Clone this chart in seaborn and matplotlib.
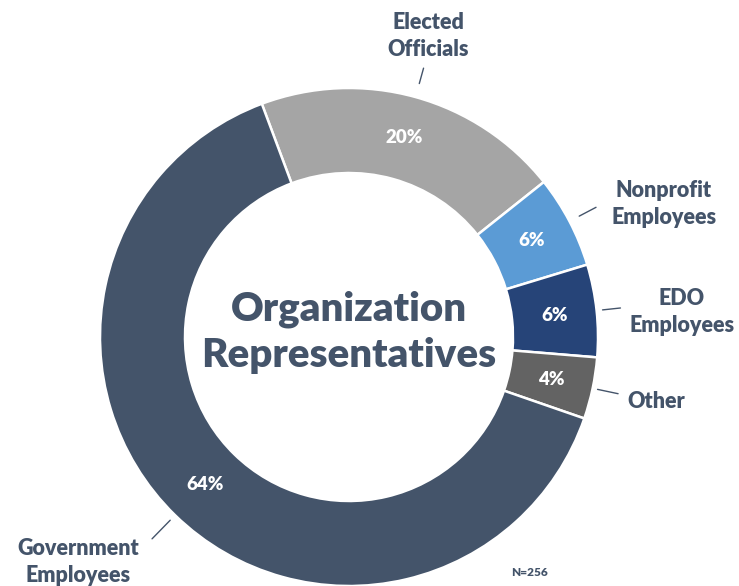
import numpy as np
import matplotlib.pyplot as plt
import seaborn as sns

# data
categories = ["Government\nEmployees", "Elected\nOfficials", "Nonprofit\nEmployees",
              "EDO\nEmployees", "Other"]
shares = [64, 20, 6, 6, 4]
colors = ["#44546A", "#A5A5A5", "#5B9BD5", "#264478", "#636363"]
order = [1, 2, 3, 4, 0]   # clockwise from the top, as in the original
sample_label = "N=256"
center_title = "Organization\nRepresentatives"

# layout (pixel coordinates of the 739x586 image, y down)
W, H = 739, 586
CX, CY, R = 349, 337, 249
label_pos = {
    "Elected\nOfficials": (428, 36),
    "Nonprofit\nEmployees": (664, 204),
    "EDO\nEmployees": (682, 312),
    "Other": (656, 401),
    "Government\nEmployees": (78, 562),
}
lead_r = {  # inner/outer radius of each leader line, px
    "Elected\nOfficials": (263, 279),
    "Nonprofit\nEmployees": (260, 279),
    "EDO\nEmployees": (255, 273),
    "Other": (254, 275),
    "Government\nEmployees": (256, 282),
}

sns.set_theme(style="white")
plt.rcParams['font.family'] = ['Lato', 'DejaVu Sans']
TXT = "#44546A"

fig = plt.figure(figsize=(W / 100, H / 100), dpi=100)
ax = fig.add_axes([0, 0, 1, 1])

vals = [shares[i] for i in order]
cols = [colors[i] for i in order]
labs = [categories[i] for i in order]

wedges, _, autotexts = ax.pie(
    vals, colors=cols, startangle=110.5, counterclock=False,
    radius=R, center=(CX, H - CY), autopct='%.0f%%', pctdistance=0.83,
    wedgeprops=dict(width=R - 164, edgecolor="white", linewidth=1.8),
    textprops=dict(color="white", fontsize=13.5, fontweight="heavy"),
)

for w, lab in zip(wedges, labs):
    ang = np.deg2rad((w.theta1 + w.theta2) / 2)
    r1, r2 = lead_r[lab]
    ax.plot([CX + r1 * np.cos(ang), CX + r2 * np.cos(ang)],
            [H - CY + r1 * np.sin(ang), H - CY + r2 * np.sin(ang)],
            color=TXT, lw=1.0)
    x, y = label_pos[lab]
    ax.text(x, H - y, lab, ha="center", va="center", color=TXT,
            fontsize=15.5, fontweight="heavy", linespacing=1.35)

ax.text(CX, H - 332, center_title, ha="center", va="center", color=TXT,
        fontsize=29, fontweight="heavy", linespacing=1.3)
ax.text(530, H - 572, sample_label, ha="center", va="center", color=TXT,
        fontsize=8.5, fontweight="heavy")

ax.set_xlim(0, W)
ax.set_ylim(0, H)
ax.set_aspect("equal")
ax.axis("off")

fig.savefig("out.png", dpi=100)
